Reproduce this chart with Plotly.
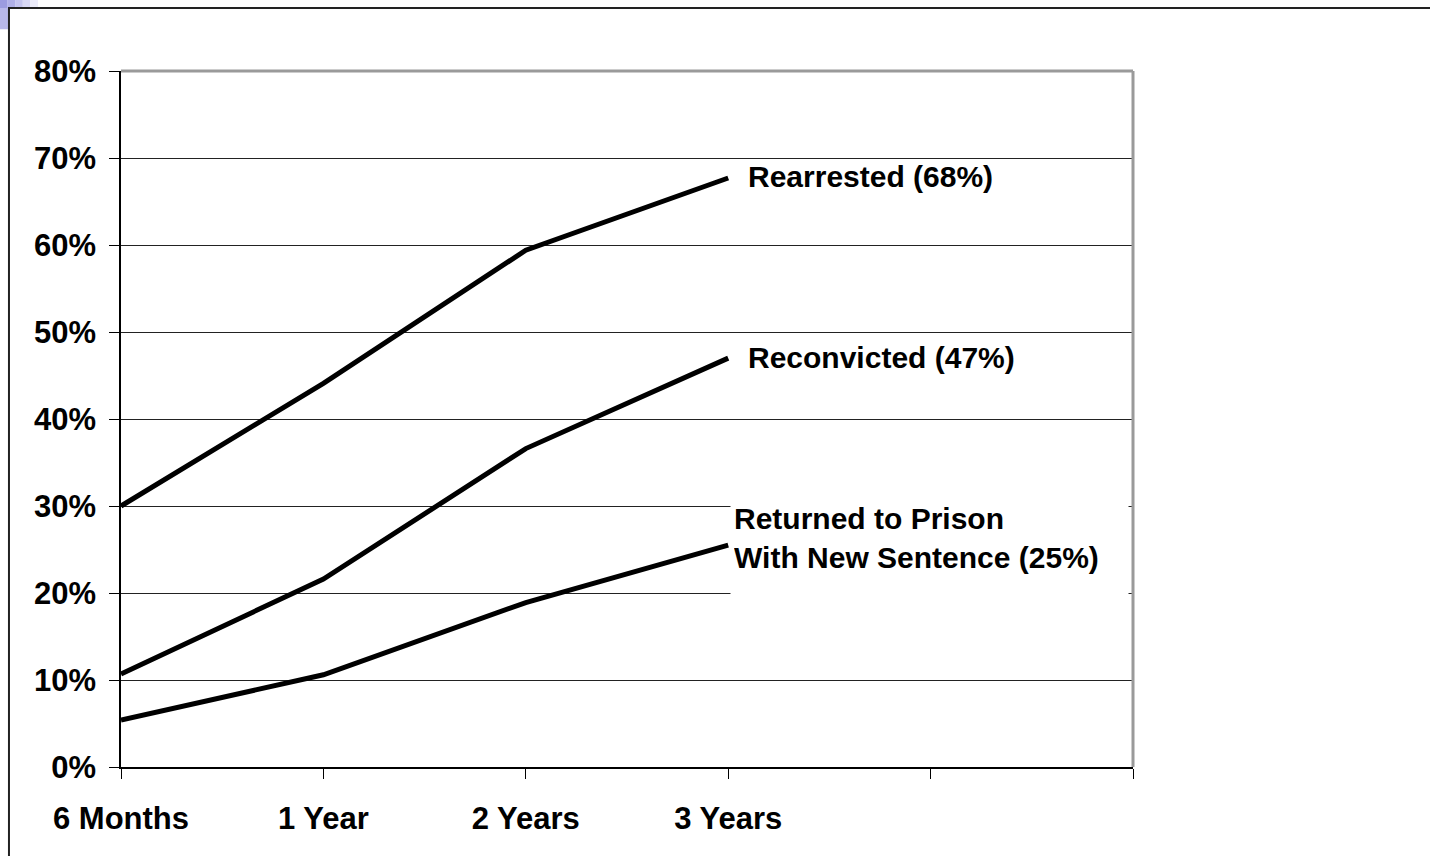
import plotly.graph_objects as go

categories = ["6 Months", "1 Year", "2 Years", "3 Years"]
rearrested = [0.300, 0.441, 0.594, 0.677]
reconvicted = [0.107, 0.216, 0.366, 0.470]
returned = [0.054, 0.106, 0.189, 0.255]
labels = ["Rearrested (68%)", "Reconvicted (47%)", "Returned to Prison<br>With New Sentence (25%)"]
y_ticks = [0, 0.1, 0.2, 0.3, 0.4, 0.5, 0.6, 0.7, 0.8]

x_pos = list(range(len(categories)))
tick_pos = list(range(len(categories) + 2))
tick_text = categories + ["", ""]

FONT = "Liberation Sans, Arial, sans-serif"

fig = go.Figure()
for vals in [rearrested, reconvicted, returned]:
    fig.add_trace(go.Scatter(x=x_pos, y=vals, mode="lines",
                             line=dict(color="black", width=5),
                             showlegend=False, hoverinfo="skip"))

# labels at the end of each line
fig.add_annotation(x=x_pos[-1], y=rearrested[-1], text="<b>" + labels[0] + "</b>",
                   xanchor="left", yanchor="middle", xshift=18, yshift=2, showarrow=False,
                   font=dict(family=FONT, size=30, color="black"))
fig.add_annotation(x=x_pos[-1], y=reconvicted[-1], text="<b>" + labels[1] + "</b>",
                   xanchor="left", yanchor="middle", xshift=18, yshift=1, showarrow=False,
                   font=dict(family=FONT, size=30, color="black"))
fig.add_annotation(x=x_pos[-1], y=returned[-1], text="<b>" + labels[2] + "</b>",
                   xanchor="left", yanchor="top", valign="top", xshift=2, yshift=47,
                   showarrow=False, align="left", width=391, height=98,
                   bgcolor="white", borderpad=3,
                   font=dict(family=FONT, size=30, color="black"))

shapes = [
    # plot area top/right border (gray)
    dict(type="line", xref="paper", yref="paper", x0=0, x1=1, y0=1, y1=1,
         line=dict(color="#9a9a9a", width=3), layer="above"),
    dict(type="line", xref="paper", yref="paper", x0=1, x1=1, y0=0, y1=1,
         line=dict(color="#9a9a9a", width=3), layer="above"),
    # outer frame
    dict(type="rect", xref="paper", yref="paper", x0=-0.1107, x1=1.30, y0=-0.2, y1=1.0905,
         line=dict(color="#222222", width=2), layer="above"),
]
# corner gradient
grad = ["#9c9ce0", "#b0b0e8", "#c4c4ef", "#d8d8f5", "#ececfa"]
for i, c in enumerate(grad):
    x0 = -0.1196 + i * 0.0075
    shapes.append(dict(type="rect", xref="paper", yref="paper", x0=x0, x1=x0 + 0.0076,
                       y0=1.0905, y1=1.103, line=dict(width=0), fillcolor=c, layer="below"))
shapes.append(dict(type="rect", xref="paper", yref="paper", x0=-0.1196, x1=-0.1115,
                   y0=1.06, y1=1.0905, line=dict(width=0), fillcolor="#b8b8ea", layer="below"))

fig.update_layout(
    width=1430, height=856,
    margin=dict(l=121, r=297, t=71, b=89),
    paper_bgcolor="white", plot_bgcolor="white",
    shapes=shapes,
    xaxis=dict(range=[0, 5], tickmode="array", tickvals=tick_pos, ticktext=tick_text,
               showgrid=False, zeroline=False, showline=True, linecolor="black", linewidth=1.5,
               ticks="outside", ticklen=10, tickcolor="black", tickwidth=1,
               ticklabelstandoff=13,
               tickfont=dict(family=FONT, size=31, color="black", weight="bold")),
    yaxis=dict(range=[0, 0.8], tickmode="array", tickvals=y_ticks, tickformat=".0%",
               showgrid=True, gridcolor="#222222", gridwidth=1, zeroline=False,
               showline=True, linecolor="black", linewidth=1.5,
               ticks="outside", ticklen=10, tickcolor="black", tickwidth=1,
               ticklabelstandoff=7,
               tickfont=dict(family=FONT, size=31, color="black", weight="bold")),
)

fig.write_html("out.html")
